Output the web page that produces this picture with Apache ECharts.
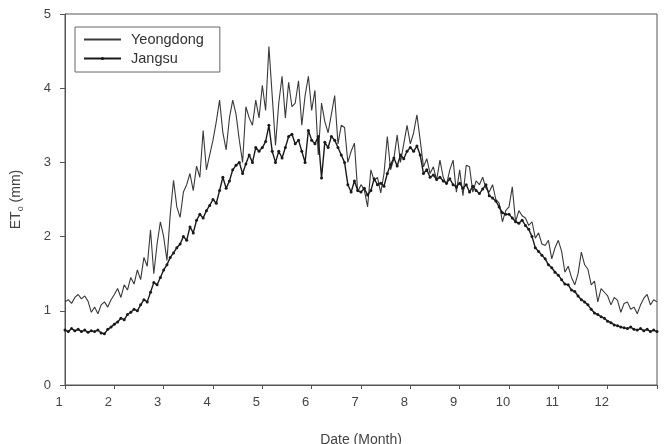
<!DOCTYPE html>
<html>
<head>
<meta charset="utf-8">
<script src="https://cdn.jsdelivr.net/npm/echarts@6/dist/echarts.min.js"></script>
<style>
  html, body { margin: 0; padding: 0; background: #fff; }
  #main { width: 664px; height: 444px; }
</style>
</head>
<body>
<div id="main"></div>
<script>
// readings every ~2 days (15 per month), month 1 .. 13
var yeongdong = [
  1.12, 1.15, 1.10, 1.18, 1.22, 1.16, 1.20, 1.13, 0.98, 1.05, 0.96, 1.08, 1.12, 1.05, 1.15,
  1.22, 1.30, 1.18, 1.35, 1.28, 1.45, 1.36, 1.55, 1.42, 1.72, 1.60, 2.09, 1.50, 1.90, 2.20,
  2.00, 1.68, 2.30, 2.76, 2.40, 2.26, 2.60, 2.70, 2.85, 2.62, 2.95, 2.80, 3.43, 2.90, 3.10,
  3.30, 3.55, 3.84, 3.40, 3.17, 3.60, 3.84, 3.65, 3.30, 3.00, 3.75, 3.60, 3.50, 3.84, 3.60,
  4.04, 3.70, 4.56, 3.90, 3.23, 3.80, 4.16, 3.60, 4.08, 3.75, 3.80, 4.10, 3.50, 3.90, 4.16,
  3.70, 3.97, 3.10, 3.80, 3.55, 3.40, 3.65, 3.90, 3.25, 3.50, 3.47, 3.00, 3.15, 3.26, 2.60,
  2.70, 2.63, 2.40, 2.90, 2.75, 2.80, 2.59, 2.85, 3.35, 2.90, 3.05, 3.37, 3.00, 3.25, 3.50,
  3.25, 3.40, 3.64, 3.30, 2.94, 3.05, 2.85, 2.94, 2.76, 3.03, 2.80, 2.70, 2.90, 3.03, 2.60,
  2.90, 2.55, 2.96, 2.94, 2.60, 2.75, 2.70, 2.80, 2.65, 2.60, 2.70, 2.50, 2.45, 2.20, 2.35,
  2.40, 2.67, 2.20, 2.35, 2.28, 2.25, 2.15, 2.20, 1.98, 2.05, 1.90, 1.88, 1.95, 1.70, 1.85,
  1.95, 1.80, 1.52, 1.60, 1.45, 1.35, 1.50, 1.79, 1.62, 1.56, 1.35, 1.40, 1.12, 1.30, 1.25,
  1.20, 1.08, 1.18, 1.14, 0.98, 1.10, 1.12, 1.02, 1.05, 0.96, 1.08, 1.17, 1.22, 1.08, 1.15, 1.12
];
var jangsu = [
  0.74, 0.72, 0.76, 0.73, 0.75, 0.72, 0.74, 0.71, 0.73, 0.72, 0.74, 0.70, 0.69, 0.75, 0.78,
  0.82, 0.85, 0.90, 0.88, 0.95, 0.98, 1.02, 1.00, 1.08, 1.15, 1.12, 1.25, 1.38, 1.35, 1.45,
  1.55, 1.62, 1.72, 1.78, 1.85, 1.90, 2.00, 1.95, 2.13, 2.05, 2.22, 2.30, 2.25, 2.35, 2.42,
  2.50, 2.45, 2.62, 2.80, 2.65, 2.75, 2.90, 2.96, 3.00, 2.85, 2.98, 3.10, 3.00, 3.20, 3.15,
  3.20, 3.28, 3.50, 3.15, 3.00, 3.15, 3.06, 3.20, 3.35, 3.38, 3.25, 3.30, 3.15, 3.00, 3.43,
  3.30, 3.25, 3.35, 2.79, 3.27, 3.20, 3.35, 3.30, 3.20, 3.10, 3.00, 2.70, 2.60, 2.75, 2.62,
  2.60, 2.65, 2.56, 2.62, 2.78, 2.70, 2.72, 2.68, 2.85, 2.97, 3.06, 2.95, 3.10, 3.05, 3.15,
  3.20, 3.15, 3.22, 3.10, 2.85, 2.90, 2.80, 2.83, 2.77, 2.80, 2.75, 2.72, 2.78, 2.70, 2.67,
  2.72, 2.65, 2.70, 2.60, 2.68, 2.62, 2.58, 2.64, 2.70, 2.55, 2.52, 2.48, 2.40, 2.32, 2.30,
  2.30, 2.25, 2.20, 2.18, 2.22, 2.15, 2.10, 2.00, 1.85, 1.80, 1.75, 1.70, 1.62, 1.58, 1.52,
  1.48, 1.42, 1.36, 1.35, 1.28, 1.26, 1.20, 1.15, 1.12, 1.08, 1.02, 0.97, 0.95, 0.92, 0.90,
  0.86, 0.84, 0.81, 0.80, 0.78, 0.77, 0.76, 0.78, 0.75, 0.74, 0.76, 0.73, 0.75, 0.72, 0.74, 0.72
];
var monthTicks = [1, 2, 3, 4, 5, 6, 7, 8, 9, 10, 11, 12];

// pair each reading with its month position
function toPoints(vals) {
  var n = vals.length;
  return vals.map(function (v, i) { return [1 + i * 12 / (n - 1), v]; });
}

var chart = echarts.init(document.getElementById('main'));
var txt = '#444';
chart.setOption({
  animation: false,
  textStyle: { fontFamily: 'Liberation Sans' },
  grid: {
    left: 65, right: 7, top: 14, bottom: 59, outerBoundsMode: 'none',
    show: true, borderColor: '#555', borderWidth: 1
  },
  legend: {
    left: 75, top: 27, orient: 'vertical',
    borderColor: '#666', borderWidth: 1,
    padding: [5, 16, 6, 8], itemGap: 4, itemWidth: 37, itemHeight: 4,
    textStyle: { fontSize: 14.5, color: '#333', padding: [0, 0, 0, 5] },
    data: [
      { name: 'Yeongdong', itemStyle: { color: 'rgba(0,0,0,0)' } },
      { name: 'Jangsu' }
    ]
  },
  xAxis: {
    type: 'value', min: 1, max: 13, interval: 1,
    name: 'Date (Month)', nameLocation: 'middle', nameGap: 48,
    nameTextStyle: { fontSize: 14, color: txt },
    axisLine: { lineStyle: { color: '#555' } },
    axisTick: { inside: false, length: 4, lineStyle: { color: '#555' } },
    splitLine: { show: false },
    axisLabel: {
      fontSize: 13, color: txt, margin: 11, padding: [0, 12, 0, 0],
      formatter: function (v) { return monthTicks.indexOf(v) >= 0 ? String(v) : ''; }
    }
  },
  yAxis: {
    type: 'value', min: 0, max: 5, interval: 1,
    name: '{a|ET}{s|o}{a| (mm)}', nameLocation: 'middle', nameGap: 40, nameRotate: 90,
    nameTextStyle: {
      rich: {
        a: { fontSize: 14, color: txt, fontFamily: 'Liberation Sans' },
        s: { fontSize: 9, color: txt, fontFamily: 'Liberation Sans', verticalAlign: 'bottom', padding: [8, 0, 0, 0] }
      }
    },
    axisLine: { show: true, lineStyle: { color: '#555' } },
    axisTick: { show: true, length: 5, lineStyle: { color: '#555' } },
    splitLine: { show: false },
    axisLabel: { fontSize: 13, color: txt, margin: 14 }
  },
  series: [
    {
      name: 'Yeongdong', type: 'line', data: toPoints(yeongdong),
      symbol: 'none', lineStyle: { color: '#3a3a3a', width: 1.1 }, itemStyle: { color: '#3a3a3a' }
    },
    {
      name: 'Jangsu', type: 'line', data: toPoints(jangsu),
      symbol: 'circle', symbolSize: 3, showSymbol: true,
      lineStyle: { color: '#1a1a1a', width: 1.4 }, itemStyle: { color: '#1a1a1a' }
    }
  ]
});
</script>
</body>
</html>
